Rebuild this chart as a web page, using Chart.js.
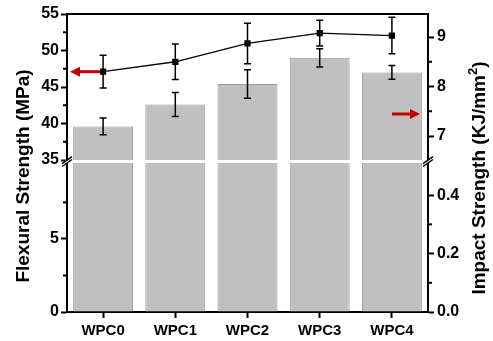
<!DOCTYPE html>
<html>
<head>
<meta charset="utf-8">
<script src="https://cdn.jsdelivr.net/npm/chart.js@4.4.0/dist/chart.umd.min.js"></script>
<style>
  body { margin: 0; background: #fff; }
  #wrap { width: 493px; height: 341px; }
</style>
</head>
<body>
<div id="wrap"><canvas id="myChart" width="493" height="341"></canvas></div>
<script>
// data
const categories = ['WPC0', 'WPC1', 'WPC2', 'WPC3', 'WPC4'];
const flexural = [39.6, 42.6, 45.4, 49.0, 47.0];
const flexuralErr = [1.15, 1.65, 1.95, 1.25, 0.95];
const impact = [8.30, 8.50, 8.87, 9.08, 9.03];
const impactErr = [0.33, 0.36, 0.41, 0.26, 0.37];

// tick labels
const leftTicks = [0, 5, 35, 40, 45, 50, 55];
const leftMinor = [2.5, 7.5, 37.5, 42.5, 47.5, 52.5];
const rightTicks = [0, 0.2, 0.4, 7, 8, 9];
const rightMinor = [0.1, 0.3, 7.5, 8.5];

// broken axis: lower part and upper part of each y scale
const breaks = {
    y: [{ min: 0, max: 10.2, f0: 0, f1: 0.5 }, { min: 35, max: 55, f0: 0.51, f1: 1 }],
    y2: [{ min: 0, max: 0.51, f0: 0, f1: 0.5 }, { min: 6.515, max: 9.465, f0: 0.51, f1: 1 }]
};
const tickValues = { y: leftTicks, y2: rightTicks };

function toDecimal(segs, v) {
    const lo = segs[0], hi = segs[1];
    if (v <= lo.max) return lo.f0 + (v - lo.min) / (lo.max - lo.min) * (lo.f1 - lo.f0);
    if (v < hi.min) return lo.f1;
    return hi.f0 + (v - hi.min) / (hi.max - hi.min) * (hi.f1 - hi.f0);
}

class BrokenScale extends Chart.LinearScale {
    determineDataLimits() {
        const segs = breaks[this.id];
        this.min = segs[0].min;
        this.max = segs[1].max;
    }
    buildTicks() {
        return tickValues[this.id].map(v => ({ value: v }));
    }
    getPixelForValue(v) {
        return this.getPixelForDecimal(toDecimal(breaks[this.id], v));
    }
    getValueForPixel(p) {
        const d = this.getDecimalForPixel(p);
        const segs = breaks[this.id];
        const s = d <= segs[0].f1 ? segs[0] : segs[1];
        return s.min + (d - s.f0) / (s.f1 - s.f0) * (s.max - s.min);
    }
}
BrokenScale.id = 'broken';
BrokenScale.defaults = Chart.LinearScale.defaults;
Chart.register(BrokenScale);

Chart.defaults.font.family = "'Liberation Sans', Arial, sans-serif";
Chart.defaults.color = '#000';

const FONT = "'Liberation Sans', Arial, sans-serif";

// error bars, axis break, minor ticks, arrows and titles
const extras = {
    id: 'extras',
    afterDraw(chart) {
        const ctx = chart.ctx;
        const area = chart.chartArea;
        const x = chart.scales.x, y = chart.scales.y, y2 = chart.scales.y2;
        ctx.save();

        // top frame line
        ctx.strokeStyle = '#000';
        ctx.lineWidth = 2;
        ctx.beginPath();
        ctx.moveTo(area.left - 1, area.top);
        ctx.lineTo(area.right + 1, area.top);
        ctx.stroke();

        // minor ticks
        ctx.lineWidth = 2;
        leftMinor.forEach(v => {
            const py = y.getPixelForValue(v);
            ctx.beginPath();
            ctx.moveTo(area.left - 4, py);
            ctx.lineTo(area.left, py);
            ctx.stroke();
        });
        rightMinor.forEach(v => {
            const py = y2.getPixelForValue(v);
            ctx.beginPath();
            ctx.moveTo(area.right, py);
            ctx.lineTo(area.right + 4, py);
            ctx.stroke();
        });

        // break gap
        const gTop = y.getPixelForDecimal(0.51);
        const gBot = y.getPixelForDecimal(0.5);
        ctx.fillStyle = '#fff';
        ctx.fillRect(area.left - 2, gTop, area.right - area.left + 4, gBot - gTop);
        ctx.strokeStyle = '#000';
        ctx.lineWidth = 1.5;
        [area.left, area.right].forEach(ax => {
            [gTop, gBot].forEach(gy => {
                ctx.beginPath();
                ctx.moveTo(ax - 5, gy + 3.5);
                ctx.lineTo(ax + 5, gy - 3.5);
                ctx.stroke();
            });
        });

        // error bars
        function errBar(px, v, e, scale) {
            const t = scale.getPixelForValue(v + e);
            const b = scale.getPixelForValue(v - e);
            ctx.beginPath();
            ctx.moveTo(px, t); ctx.lineTo(px, b);
            ctx.moveTo(px - 3.5, t); ctx.lineTo(px + 3.5, t);
            ctx.moveTo(px - 3.5, b); ctx.lineTo(px + 3.5, b);
            ctx.stroke();
        }
        ctx.lineWidth = 1.5;
        const barMeta = chart.getDatasetMeta(0);
        const lineMeta = chart.getDatasetMeta(1);
        flexural.forEach((v, i) => errBar(barMeta.data[i].x, v, flexuralErr[i], y));
        impact.forEach((v, i) => errBar(lineMeta.data[i].x, v, impactErr[i], y2));

        // arrows
        function arrow(x0, x1, py) {
            const dir = Math.sign(x1 - x0);
            ctx.strokeStyle = '#c00000';
            ctx.fillStyle = '#c00000';
            ctx.lineWidth = 3;
            ctx.beginPath();
            ctx.moveTo(x0, py);
            ctx.lineTo(x1 - dir * 8, py);
            ctx.stroke();
            ctx.beginPath();
            ctx.moveTo(x1, py);
            ctx.lineTo(x1 - dir * 10, py - 5);
            ctx.lineTo(x1 - dir * 10, py + 5);
            ctx.closePath();
            ctx.fill();
        }
        arrow(area.left + 33, area.left + 3, lineMeta.data[0].y);
        arrow(area.right - 36, area.right - 8, 114);

        // axis titles
        ctx.fillStyle = '#000';
        ctx.font = 'bold 19px ' + FONT;
        ctx.textAlign = 'center';
        ctx.textBaseline = 'middle';
        ctx.save();
        ctx.translate(24, 176);
        ctx.rotate(-Math.PI / 2);
        ctx.fillText('Flexural Strength (MPa)', 0, 0);
        ctx.restore();

        ctx.save();
        ctx.translate(480, 178);
        ctx.rotate(-Math.PI / 2);
        const p1 = 'Impact Strength (KJ/mm', p2 = ')';
        const w1 = ctx.measureText(p1).width;
        const w3 = ctx.measureText(p2).width;
        ctx.font = 'bold 13px ' + FONT;
        const w2 = ctx.measureText('2').width;
        let sx = -(w1 + w2 + w3) / 2;
        ctx.textAlign = 'left';
        ctx.font = 'bold 19px ' + FONT;
        ctx.fillText(p1, sx, 0);
        ctx.font = 'bold 13px ' + FONT;
        ctx.fillText('2', sx + w1, -7);
        ctx.font = 'bold 19px ' + FONT;
        ctx.fillText(p2, sx + w1 + w2, 0);
        ctx.restore();

        ctx.restore();
    }
};

const ctx = document.getElementById('myChart');
new Chart(ctx, {
    type: 'bar',
    data: {
        labels: categories,
        datasets: [{
            label: 'Flexural Strength',
            data: flexural,
            yAxisID: 'y',
            backgroundColor: '#c0c0c0',
            borderColor: '#999999',
            borderWidth: 1,
            categoryPercentage: 1,
            barPercentage: 0.83,
            order: 1
        }, {
            type: 'line',
            label: 'Impact Strength',
            data: impact,
            yAxisID: 'y2',
            borderColor: '#000',
            borderWidth: 1.3,
            pointStyle: 'rect',
            pointRadius: 3.5,
            pointBackgroundColor: '#000',
            pointBorderColor: '#000',
            order: 0
        }]
    },
    options: {
        responsive: false,
        animation: false,
        layout: { padding: { top: 14, left: 0, right: 0, bottom: 0 } },
        plugins: {
            legend: { display: false },
            tooltip: { enabled: false }
        },
        scales: {
            x: {
                grid: { offset: false, drawOnChartArea: false, tickLength: 6, tickWidth: 2, tickColor: '#000' },
                border: { color: '#000', width: 2 },
                ticks: { font: { size: 15, weight: 'bold' }, padding: 4, color: '#000' },
                afterFit: s => { s.height = 29; }
            },
            y: {
                type: 'broken',
                position: 'left',
                grid: { drawOnChartArea: false, tickLength: 6, tickWidth: 2, tickColor: '#000' },
                border: { color: '#000', width: 2 },
                ticks: { font: { size: 16, weight: 'bold' }, padding: 2, autoSkip: false, color: '#000',
                    callback: v => String(v) },
                afterFit: s => { s.width = 67; }
            },
            y2: {
                type: 'broken',
                position: 'right',
                grid: { drawOnChartArea: false, tickLength: 6, tickWidth: 2, tickColor: '#000' },
                border: { color: '#000', width: 2 },
                ticks: { font: { size: 16, weight: 'bold' }, padding: 3, autoSkip: false, color: '#000',
                    callback: v => v < 1 ? v.toFixed(1) : String(v) },
                afterFit: s => { s.width = 65; }
            }
        }
    },
    plugins: [extras]
});
</script>
</body>
</html>
